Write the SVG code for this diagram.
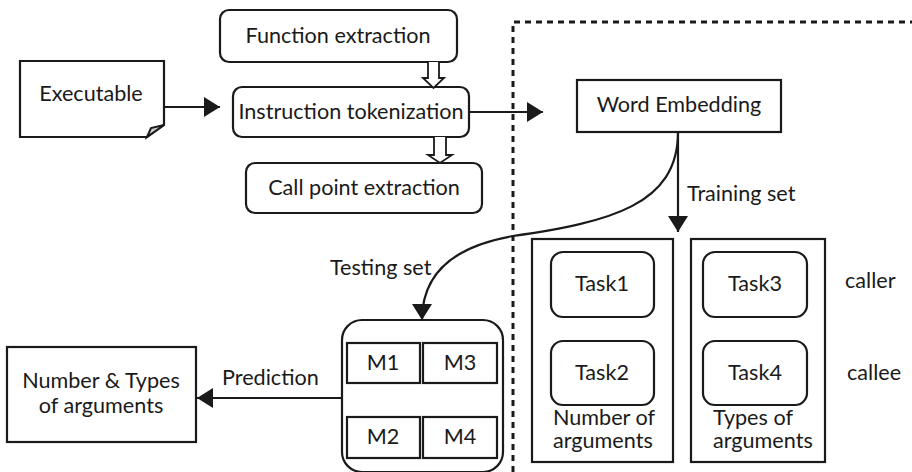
<svg xmlns="http://www.w3.org/2000/svg" width="912" height="472" viewBox="0 0 912 472">
  <style>
    text { font-family: Lato, "Liberation Sans", sans-serif; font-size: 21.6px; fill: #1a1a1a; }
    .mid { text-anchor: middle; }
    .box { fill: #ffffff; stroke: #1a1a1a; stroke-width: 2.2; }
    .line { fill: none; stroke: #1a1a1a; stroke-width: 2.2; }
    .hollow { fill: #ffffff; stroke: #1a1a1a; stroke-width: 1.8; stroke-linejoin: miter; }
    .dash { fill: none; stroke: #1a1a1a; stroke-width: 3; stroke-dasharray: 6 5; }
  </style>
  <defs>
    <marker id="arrow" markerUnits="userSpaceOnUse" markerWidth="18" markerHeight="20" refX="16" refY="10" orient="auto">
      <path d="M0,0 L16,10 L0,20 z" fill="#1a1a1a"/>
    </marker>
  </defs>
  <rect width="912" height="472" fill="#ffffff"/>

  <!-- training region boundary -->
  <path class="dash" d="M513,472 L513,22 L912,22"/>

  <g id="executable">
    <path class="box" fill="#fbfbfb" d="M20,61 H164 V125 L147,137 H20 Z"/>
    <path d="M147,137 L151,128 L164,125 Z" fill="#cfcfcf" stroke="#1a1a1a" stroke-width="2"/>
    <text class="mid" x="91" y="101">Executable</text>
  </g>

  <g id="function-extraction">
    <rect class="box" x="220" y="10" width="237" height="52" rx="9"/>
    <text class="mid" x="338" y="43">Function extraction</text>
  </g>

  <g id="instruction-tokenization">
    <rect class="box" x="233" y="87" width="236" height="50" rx="9"/>
    <text class="mid" x="351" y="119">Instruction tokenization</text>
  </g>

  <g id="call-point-extraction">
    <rect class="box" x="246" y="163" width="236" height="50" rx="9"/>
    <text class="mid" x="364" y="195">Call point extraction</text>
  </g>

  <g id="word-embedding">
    <rect class="box" x="577" y="80" width="204" height="52"/>
    <text class="mid" x="679" y="112">Word Embedding</text>
  </g>

  <g id="task-number">
    <rect class="box" x="532" y="239" width="141" height="223"/>
    <rect class="box" x="551" y="252" width="103" height="65" rx="12"/>
    <text class="mid" x="602" y="291">Task1</text>
    <rect class="box" x="551" y="341" width="103" height="64" rx="12"/>
    <text class="mid" x="602" y="380">Task2</text>
    <text x="553" y="425">Number of</text>
    <text x="553" y="448">arguments</text>
  </g>

  <g id="task-types">
    <rect class="box" x="691" y="239" width="134" height="223"/>
    <rect class="box" x="703" y="252" width="104" height="65" rx="12"/>
    <text class="mid" x="755" y="291">Task3</text>
    <rect class="box" x="703" y="341" width="104" height="64" rx="12"/>
    <text class="mid" x="755" y="380">Task4</text>
    <text x="713" y="425">Types of</text>
    <text x="713" y="448">arguments</text>
  </g>

  <g id="role-labels">
    <text x="845" y="288">caller</text>
    <text x="847" y="380">callee</text>
  </g>

  <g id="models">
    <rect class="box" x="342" y="320" width="161" height="152" rx="20"/>
    <rect class="box" x="347" y="343" width="73" height="40"/>
    <text class="mid" x="383" y="370">M1</text>
    <rect class="box" x="423" y="343" width="74" height="40"/>
    <text class="mid" x="460" y="370">M3</text>
    <rect class="box" x="347" y="417" width="73" height="41"/>
    <text class="mid" x="383" y="444">M2</text>
    <rect class="box" x="423" y="417" width="74" height="41"/>
    <text class="mid" x="460" y="444">M4</text>
  </g>

  <g id="result">
    <rect class="box" x="7" y="347" width="189" height="95"/>
    <text class="mid" x="101" y="388">Number &amp; Types</text>
    <text class="mid" x="101" y="413">of arguments</text>
  </g>

  <g id="connectors">
    <line class="line" x1="164" y1="107" x2="220" y2="107" marker-end="url(#arrow)"/>
    <line class="line" x1="469" y1="112" x2="543" y2="112" marker-end="url(#arrow)"/>
    <path class="hollow" d="M428,62 V78 H423 L433.5,88 L444,78 H439 V62"/>
    <path class="hollow" d="M434,137 V155 H428 L440,163 L452,155 H446 V137"/>
    <line class="line" x1="678" y1="132" x2="678" y2="232" marker-end="url(#arrow)"/>
    <path class="line" d="M678,132 C678,205 610,222 513,236 C455,246 422,272 422,320" marker-end="url(#arrow)"/>
    <line class="line" x1="342" y1="398" x2="197" y2="398" marker-end="url(#arrow)"/>
    <text x="687" y="201">Training set</text>
    <text x="330" y="275">Testing set</text>
    <text x="222" y="385">Prediction</text>
  </g>
</svg>
